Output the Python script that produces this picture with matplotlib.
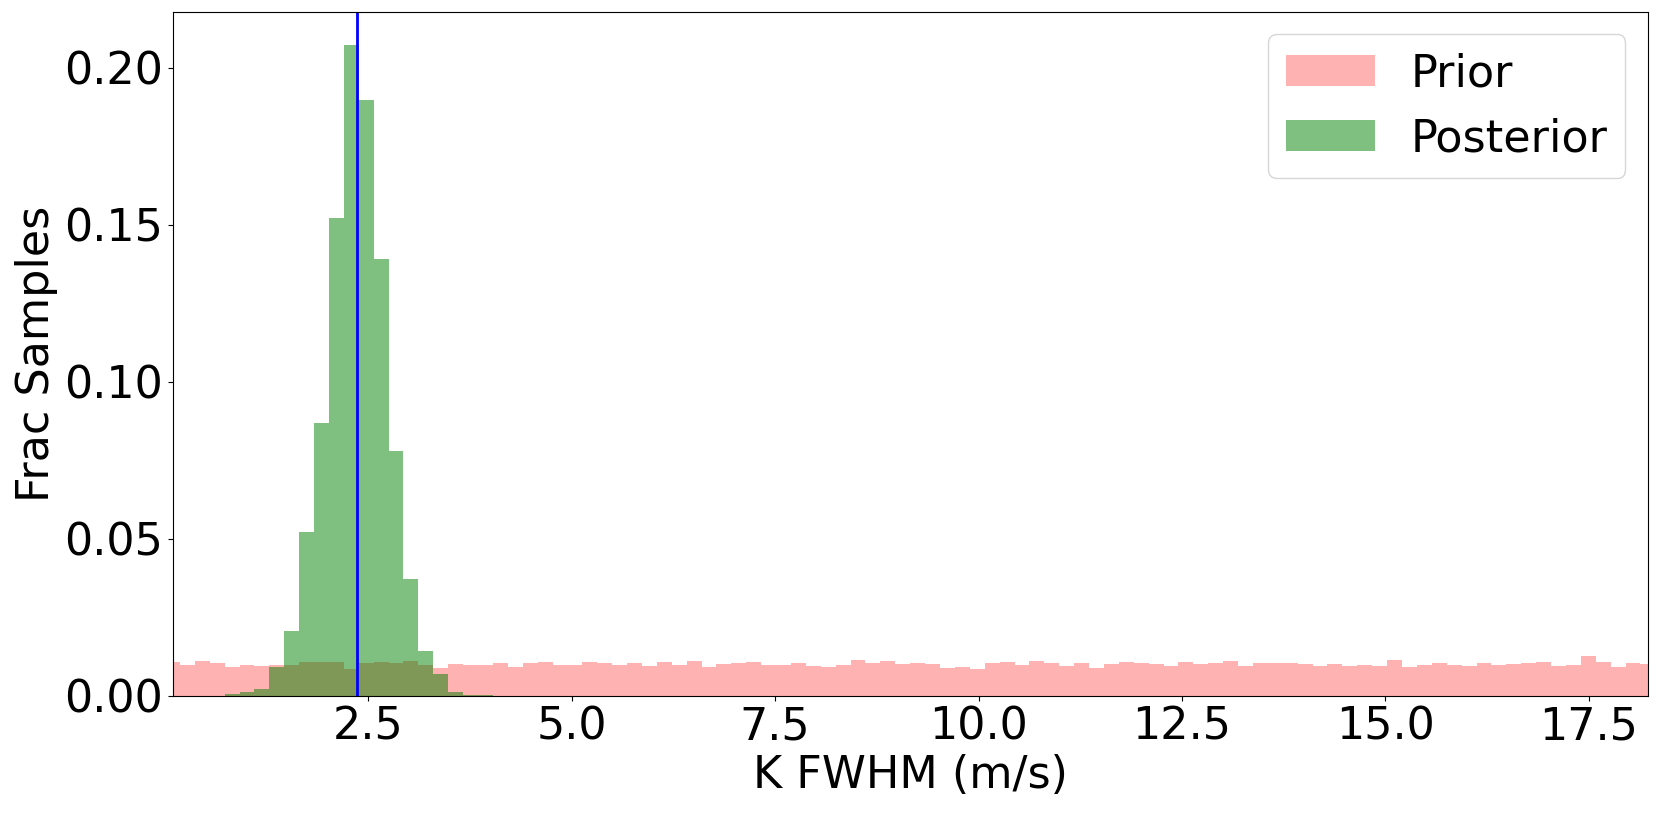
import numpy as np
import matplotlib
matplotlib.use('Agg')
import matplotlib.pyplot as plt

# bin edges of the histograms (100 bins)
bin_lo = 0.0
bin_hi = 18.32
n_bins = 100

# fraction of samples per bin
prior_frac = [
    0.0108, 0.0098, 0.0110, 0.0105, 0.0092, 0.0099, 0.0094, 0.0100, 0.0099, 0.0107,
    0.0109, 0.0109, 0.0085, 0.0106, 0.0109, 0.0104, 0.0111, 0.0100, 0.0089, 0.0101,
    0.0098, 0.0099, 0.0105, 0.0091, 0.0105, 0.0107, 0.0100, 0.0097, 0.0108, 0.0106,
    0.0097, 0.0104, 0.0095, 0.0108, 0.0098, 0.0111, 0.0092, 0.0101, 0.0104, 0.0108,
    0.0098, 0.0097, 0.0106, 0.0095, 0.0091, 0.0097, 0.0114, 0.0106, 0.0111, 0.0103,
    0.0106, 0.0103, 0.0090, 0.0092, 0.0087, 0.0106, 0.0109, 0.0100, 0.0111, 0.0104,
    0.0094, 0.0105, 0.0089, 0.0101, 0.0107, 0.0106, 0.0101, 0.0095, 0.0108, 0.0103,
    0.0105, 0.0111, 0.0095, 0.0105, 0.0105, 0.0104, 0.0103, 0.0095, 0.0103, 0.0095,
    0.0098, 0.0096, 0.0116, 0.0093, 0.0098, 0.0105, 0.0098, 0.0096, 0.0104, 0.0100,
    0.0103, 0.0104, 0.0108, 0.0096, 0.0097, 0.0126, 0.0109, 0.0093, 0.0105, 0.0101,
]

post_frac = [0.0] * 100
post_frac[4:22] = [
    0.0006, 0.0012, 0.0022, 0.0091, 0.0207, 0.0523, 0.0868, 0.1521, 0.2072,
    0.1896, 0.1392, 0.0781, 0.0371, 0.0143, 0.0070, 0.0013, 0.0004, 0.0002,
]

k_true = 2.36

edges = np.linspace(bin_lo, bin_hi, n_bins + 1)
centers = 0.5 * (edges[:-1] + edges[1:])

fig = plt.figure(figsize=(16.61, 8.14), dpi=100)
ax = fig.add_subplot(111)

ax.hist(centers, bins=edges, weights=prior_frac, color='red', alpha=0.3, label='Prior')
ax.hist(centers, bins=edges, weights=post_frac, color='green', alpha=0.5, label='Posterior')
ax.axvline(k_true, color='blue', lw=2)

ax.set_xlim(0.095, 18.226)
ax.set_ylim(0, 0.2176)
ax.set_xlabel('K FWHM (m/s)', fontsize=32)
ax.set_ylabel('Frac Samples', fontsize=32)
ax.tick_params(labelsize=32)
ax.legend(fontsize=32, loc='upper right')

fig.subplots_adjust(left=0.104, right=0.992, top=0.985, bottom=0.145)
fig.savefig('out.png', dpi=100)
